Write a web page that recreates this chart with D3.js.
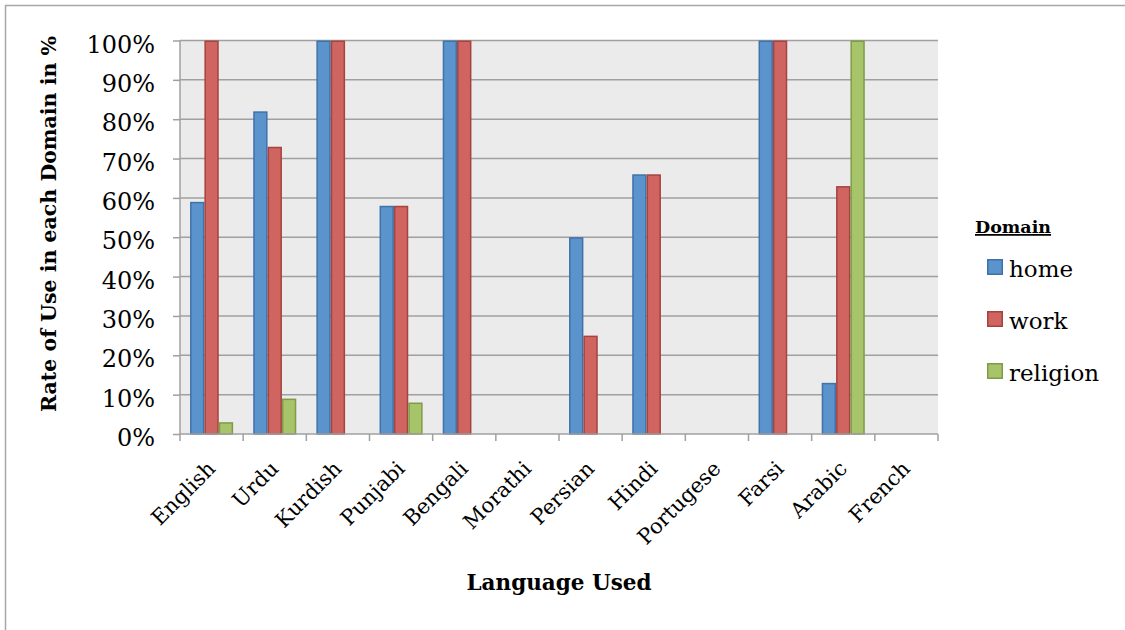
<!DOCTYPE html>
<html>
<head>
<meta charset="utf-8">
<script src="https://cdn.jsdelivr.net/npm/d3@7"></script>
<style>
  html, body { margin: 0; padding: 0; background: #fff; }
  svg { display: block; }
  text { font-family: "DejaVu Serif", "Liberation Serif", serif; fill: #000; }
</style>
</head>
<body>
<svg id="chart" width="1125" height="630"></svg>
<script>
// Language use by domain
const categories = ["English", "Urdu", "Kurdish", "Punjabi", "Bengali", "Morathi",
                    "Persian", "Hindi", "Portugese", "Farsi", "Arabic", "French"];
const seriesNames = ["home", "work", "religion"];
const home     = [59, 82, 100, 58, 100, 0, 50, 66, 0, 100, 13, 0];
const work     = [100, 73, 100, 58, 100, 0, 25, 66, 0, 100, 63, 0];
const religion = [3, 9, 0, 8, 0, 0, 0, 0, 0, 0, 100, 0];
const yTicks   = [0, 10, 20, 30, 40, 50, 60, 70, 80, 90, 100];

const seriesValues = { home, work, religion };
const fills   = { home: "#5b93cd", work: "#cf6460", religion: "#a8c46a" };
const strokes = { home: "#3e72a8", work: "#a5433f", religion: "#7e9c47" };

const svg = d3.select("#chart");
const plot = { left: 180, right: 938, top: 40.5, bottom: 434 };

// outer chart frame
svg.append("rect")
  .attr("x", 5.5).attr("y", 5.5)
  .attr("width", 1140).attr("height", 640)
  .attr("fill", "#fff").attr("stroke", "#a6a6a6").attr("stroke-width", 1.5);

const x0 = d3.scaleBand().domain(categories).range([plot.left, plot.right]).paddingInner(0).paddingOuter(0);
const x1 = d3.scaleBand().domain(seriesNames).range([0, x0.bandwidth()]).paddingInner(0).paddingOuter(0.7);
const y = d3.scaleLinear().domain([0, 100]).range([plot.bottom, plot.top]);

// plot background
svg.append("rect")
  .attr("x", plot.left).attr("y", plot.top)
  .attr("width", plot.right - plot.left).attr("height", plot.bottom - plot.top)
  .attr("fill", "#ebebeb");

// horizontal gridlines
svg.append("g").selectAll("line").data(yTicks.filter(t => t > 0)).join("line")
  .attr("x1", plot.left).attr("x2", plot.right)
  .attr("y1", d => y(d)).attr("y2", d => y(d))
  .attr("stroke", "#a0a0a0").attr("stroke-width", 1.5);

// bars
const groups = svg.append("g").selectAll("g").data(categories).join("g")
  .attr("transform", d => `translate(${x0(d)},0)`);

groups.selectAll("rect")
  .data((c, i) => seriesNames.map(s => ({ s, v: seriesValues[s][i] })).filter(d => d.v > 0))
  .join("rect")
  .attr("x", d => x1(d.s) + 0.75)
  .attr("width", x1.bandwidth() - 1.5)
  .attr("y", d => y(d.v) + 0.75)
  .attr("height", d => y(0) - y(d.v) - 0.75)
  .attr("fill", d => fills[d.s])
  .attr("stroke", d => strokes[d.s])
  .attr("stroke-width", 1.5);

// y axis
const yAxis = d3.axisLeft(y).tickValues(yTicks).tickSize(7).tickPadding(18)
  .tickFormat(d => d + "%");
const ya = svg.append("g").attr("transform", `translate(${plot.left},0)`).call(yAxis);
ya.select(".domain").attr("stroke", "#a0a0a0").attr("stroke-width", 1.5).attr("d", `M0,${plot.top}V${plot.bottom}`);
ya.selectAll(".tick line").attr("stroke", "#a0a0a0").attr("stroke-width", 1.5);
ya.selectAll(".tick text")
  .style("font-family", '"DejaVu Serif", serif').style("font-size", "24px")
  .attr("y", 3)
  .attr("dy", "0.36em");

// x axis: tick marks at category boundaries
const xa = svg.append("g").attr("transform", `translate(0,${plot.bottom})`);
xa.append("line").attr("x1", plot.left).attr("x2", plot.right)
  .attr("stroke", "#a0a0a0").attr("stroke-width", 1.5);
const bounds = categories.map(c => x0(c)).concat([x0(categories[categories.length - 1]) + x0.bandwidth()]);
xa.selectAll("line.tk").data(bounds).join("line").attr("class", "tk")
  .attr("x1", d => d).attr("x2", d => d).attr("y1", 0).attr("y2", 7)
  .attr("stroke", "#a0a0a0").attr("stroke-width", 1.5);

// rotated category labels
xa.selectAll("text").data(categories).join("text")
  .attr("text-anchor", "end")
  .style("font-size", "21px")
  .attr("transform", d => `translate(${x0(d) + x0.bandwidth() / 2 + 5},${36}) rotate(-45)`)
  .text(d => d);

// axis titles
svg.append("text")
  .attr("x", (plot.left + plot.right) / 2).attr("y", 590)
  .attr("text-anchor", "middle")
  .style("font-size", "21.5px").style("font-weight", "bold")
  .text("Language Used");

svg.append("text")
  .attr("transform", `translate(56,224) rotate(-90)`)
  .attr("text-anchor", "middle")
  .style("font-size", "20.5px").style("font-weight", "bold")
  .text("Rate of Use in each Domain in %");

// legend
const lg = svg.append("g");
lg.append("text").attr("x", 975).attr("y", 233)
  .style("font-size", "17.5px").style("font-weight", "bold")
  .style("text-decoration", "underline")
  .text("Domain");

const items = lg.selectAll("g.item").data(seriesNames).join("g").attr("class", "item")
  .attr("transform", (d, i) => `translate(987,${259 + i * 52})`);
items.append("rect").attr("x", 0.75).attr("y", 0.75).attr("width", 14.5).attr("height", 14.5)
  .attr("fill", d => fills[d]).attr("stroke", d => strokes[d]).attr("stroke-width", 1.5);
items.append("text").attr("x", 22).attr("y", 18)
  .style("font-size", "23px")
  .text(d => d);
</script>
</body>
</html>
